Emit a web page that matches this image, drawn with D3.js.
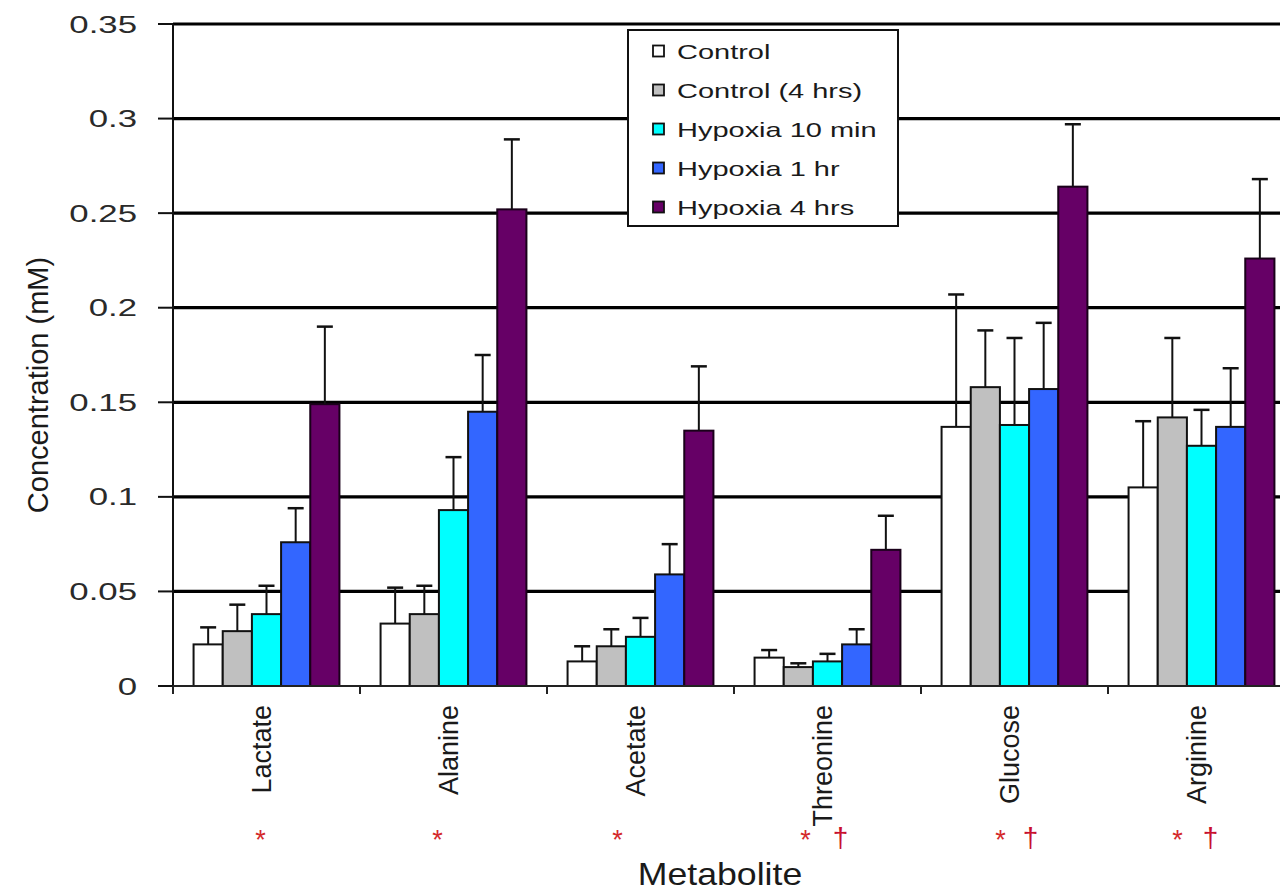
<!DOCTYPE html>
<html>
<head>
<meta charset="utf-8">
<script src="https://cdn.jsdelivr.net/npm/d3@7"></script>
<style>
  html, body { margin: 0; padding: 0; background: #fff; }
  svg { display: block; }
  text { font-family: "Liberation Sans", Arial, sans-serif; fill: #1a1a1a; }
</style>
</head>
<body>
<svg id="chart" width="1280" height="890"></svg>
<script>
// ---------------- data ----------------
const categories = ["Lactate", "Alanine", "Acetate", "Threonine", "Glucose", "Arginine"];
const seriesNames = ["Control", "Control (4 hrs)", "Hypoxia 10 min", "Hypoxia 1 hr", "Hypoxia 4 hrs"];
const seriesColors = ["#ffffff", "#c0c0c0", "#00ffff", "#3366ff", "#660066"];
// mean values per series (one entry per category)
const controlVals   = [0.022, 0.033, 0.013, 0.015, 0.137, 0.105];
const control4Vals  = [0.029, 0.038, 0.021, 0.010, 0.158, 0.142];
const hyp10Vals     = [0.038, 0.093, 0.026, 0.013, 0.138, 0.127];
const hyp1Vals      = [0.076, 0.145, 0.059, 0.022, 0.157, 0.137];
const hyp4Vals      = [0.149, 0.252, 0.135, 0.072, 0.264, 0.226];
// upper error (SD) per series
const controlErr    = [0.009, 0.019, 0.008, 0.004, 0.070, 0.035];
const control4Err   = [0.014, 0.015, 0.009, 0.002, 0.030, 0.042];
const hyp10Err      = [0.015, 0.028, 0.010, 0.004, 0.046, 0.019];
const hyp1Err       = [0.018, 0.030, 0.016, 0.008, 0.035, 0.031];
const hyp4Err       = [0.041, 0.037, 0.034, 0.018, 0.033, 0.042];
const yTicks = [0, 0.05, 0.1, 0.15, 0.2, 0.25, 0.3, 0.35];
const yTickLabels = ["0", "0.05", "0.1", "0.15", "0.2", "0.25", "0.3", "0.35"];
// significance markers under each category
const starMarks   = [true, true, true, true, true, true];
const daggerMarks = [false, false, false, true, true, true];

const values = [controlVals, control4Vals, hyp10Vals, hyp1Vals, hyp4Vals];
const errors = [controlErr, control4Err, hyp10Err, hyp1Err, hyp4Err];

// ---------------- layout ----------------
const svg = d3.select("#chart");
const plotLeft = 173, plotBottom = 686, plotTop = 24;
const catStep = 187;
const plotRight = plotLeft + catStep * categories.length;

const x = d3.scaleBand().domain(categories).range([plotLeft, plotRight])
  .paddingInner(0.22).paddingOuter(0.11);
const xs = d3.scaleBand().domain(d3.range(seriesNames.length)).range([0, x.bandwidth()]);
const y = d3.scaleLinear().domain([0, 0.35]).range([plotBottom, plotTop]);

// gridlines
svg.append("g").selectAll("line").data(yTicks.filter(d => d > 0)).join("line")
  .attr("x1", plotLeft).attr("x2", 1280)
  .attr("y1", d => y(d)).attr("y2", d => y(d))
  .attr("stroke", "#000").attr("stroke-width", 3.2);

// bars
const groups = svg.append("g").selectAll("g").data(categories).join("g")
  .attr("transform", d => `translate(${x(d)},0)`);

groups.each(function(cat, ci) {
  const g = d3.select(this);
  seriesNames.forEach((s, si) => {
    const v = values[si][ci];
    g.append("rect")
      .attr("x", xs(si)).attr("width", xs.bandwidth())
      .attr("y", y(v)).attr("height", y(0) - y(v))
      .attr("fill", seriesColors[si])
      .attr("stroke", si === 4 ? "#1a001a" : "#111")
      .attr("stroke-width", 2);
  });
});

// error bars (upper only)
groups.each(function(cat, ci) {
  const g = d3.select(this);
  seriesNames.forEach((s, si) => {
    const v = values[si][ci], e = errors[si][ci];
    const cx = xs(si) + xs.bandwidth() / 2;
    g.append("line").attr("x1", cx).attr("x2", cx)
      .attr("y1", y(v)).attr("y2", y(v + e))
      .attr("stroke", "#111").attr("stroke-width", 2);
    g.append("line").attr("x1", cx - 8).attr("x2", cx + 8)
      .attr("y1", y(v + e)).attr("y2", y(v + e))
      .attr("stroke", "#111").attr("stroke-width", 2.5);
  });
});

// y axis
svg.append("line").attr("x1", plotLeft).attr("x2", plotLeft)
  .attr("y1", plotTop).attr("y2", plotBottom)
  .attr("stroke", "#111").attr("stroke-width", 2);
svg.append("g").selectAll("line").data(yTicks).join("line")
  .attr("x1", 158).attr("x2", plotLeft)
  .attr("y1", d => y(d)).attr("y2", d => y(d))
  .attr("stroke", "#111").attr("stroke-width", 2);
svg.append("g").selectAll("text").data(yTicks).join("text")
  .attr("transform", d => `translate(137,${y(d) + 8.5}) scale(1.45,1)`)
  .attr("text-anchor", "end")
  .attr("font-size", 24)
  .style("fill", "#2a2a2a")
  .text((d, i) => yTickLabels[i]);

// x axis
svg.append("line").attr("x1", plotLeft).attr("x2", 1280)
  .attr("y1", plotBottom).attr("y2", plotBottom)
  .attr("stroke", "#222").attr("stroke-width", 2);
svg.append("g").selectAll("line").data(d3.range(categories.length + 1)).join("line")
  .attr("x1", i => plotLeft + i * x.step()).attr("x2", i => plotLeft + i * x.step())
  .attr("y1", plotBottom).attr("y2", plotBottom + 8)
  .attr("stroke", "#222").attr("stroke-width", 2);

// category labels (rotated)
svg.append("g").selectAll("text").data(categories).join("text")
  .attr("transform", d => `translate(${x(d) + x.bandwidth() / 2 + 4},705) rotate(-90)`)
  .attr("text-anchor", "end")
  .attr("font-size", 27)
  .text(d => d);

// significance markers
const starOffsets = [-6, -16, -23, -22, -14, -24];
const daggerOffsets = [0, 0, 0, 13, 16, 9];
categories.forEach((c, i) => {
  const cx = x(c) + x.bandwidth() / 2;
  if (starMarks[i]) {
    svg.append("text").attr("x", cx + starOffsets[i]).attr("y", 849)
      .attr("text-anchor", "middle").attr("font-size", 27)
      .style("fill", "#d42a2a").text("*");
  }
  if (daggerMarks[i]) {
    svg.append("text").attr("x", cx + daggerOffsets[i]).attr("y", 847)
      .attr("text-anchor", "middle").attr("font-size", 28)
      .style("fill", "#c8102e").text("†");
  }
});

// axis titles
svg.append("text")
  .attr("transform", "translate(48,385) rotate(-90)")
  .attr("text-anchor", "middle").attr("font-size", 29)
  .text("Concentration (mM)");
svg.append("text")
  .attr("transform", "translate(720,885) scale(1.15,1)")
  .attr("text-anchor", "middle").attr("font-size", 31)
  .text("Metabolite");

// legend
const lg = svg.append("g");
lg.append("rect").attr("x", 628).attr("y", 30).attr("width", 270).attr("height", 196)
  .attr("fill", "#fff").attr("stroke", "#111").attr("stroke-width", 2);
const rowY = d3.scaleLinear().domain([0, 4]).range([51, 207]);
seriesNames.forEach((s, i) => {
  lg.append("rect").attr("x", 653).attr("y", rowY(i) - 5.5).attr("width", 11).attr("height", 11)
    .attr("fill", seriesColors[i]).attr("stroke", "#111").attr("stroke-width", 1.8);
  lg.append("text")
    .attr("transform", `translate(677,${rowY(i) + 7.5}) scale(1.38,1)`)
    .attr("font-size", 21)
    .text(s);
});
</script>
</body>
</html>
